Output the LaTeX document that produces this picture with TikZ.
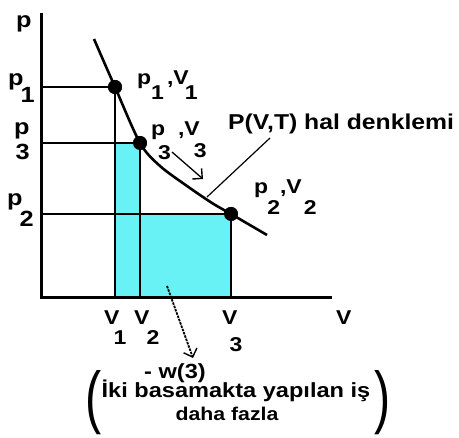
\documentclass[tikz,border=0pt]{standalone}
\usepackage{fontspec}
\usepackage{xcolor}
\usepackage{tikz}
\usetikzlibrary{arrows.meta,calc}
\newfontfamily\arialx[FakeStretch=1.15]{Liberation Sans}
\definecolor{workfill}{RGB}{104,242,246}
% subscript digit set low, same size as the letter
\newcommand{\lo}[3][0pt]{\kern#1\raisebox{-#2}{#3}}

\begin{document}
\begin{tikzpicture}[
  x=1pt,y=-1pt,
  every node/.style={font=\arialx\bfseries\fontsize{20}{22}\selectfont,inner sep=0pt},
  plbl/.style={font=\arialx\bfseries\fontsize{22}{24}\selectfont},
  axis/.style={line width=3pt},
  guide/.style={line width=1.4pt},
  curve/.style={line width=2.6pt},
  dot/.style={circle,fill=black,minimum size=14pt},
  lead/.style={line width=1.3pt,-{Straight Barb[angle=90:10pt,line width=1.4pt]}},
  txt/.style={font=\arialx\bfseries\fontsize{20.5}{22}\selectfont},
  paren/.style={font=\arialx\fontsize{60}{60}\selectfont}
]
  \useasboundingbox (0,0) rectangle (459,438);
  \coordinate (O) at (41,298);
  \coordinate (ptop) at (41,13);
  \coordinate (vend) at (332,298);

  % points on the curve
  \node[dot] (d1) at (115,87) {};
  \node[dot] (d3) at (140,143) {};
  \node[dot] (d2) at (231,214) {};

  % work areas
  \fill[workfill] (d1.center |- d3.center) rectangle (d3.center |- O);
  \fill[workfill] (d3.center |- d2.center) rectangle (d2.center |- O);

  % guide lines
  \draw[guide] (d1.center -| O) -- (d1.center) -- (d1.center |- O);
  \draw[guide] (d3.center -| O) -- (d3.center) -- (d3.center |- O);
  \draw[guide] (d2.center -| O) -- (d2.center) -- (d2.center |- O);

  % axes
  \draw[axis] (ptop) -- (O) -- (vend);

  % state curve
  \draw[curve] plot[smooth,tension=0.5] coordinates
    {(94,39) (104,62) (d1.center) (d3.center) (160,166) (187,186) (212,203) (d2.center) (267,235)};
  \node[dot] at (d1) {};
  \node[dot] at (d3) {};
  \node[dot] at (d2) {};

  % axis labels
  \node[plbl,anchor=base west] (lp) at (16,28) {p};
  \node[plbl,anchor=base west] (lp1) at (8,86) {p\lo[-3pt]{17pt}{1}};
  \node[plbl,anchor=base west] (lp3) at (14,135) {p\lo[-14pt]{25pt}{3}};
  \node[plbl,anchor=base west] (lp2) at (7,206) {p\lo[-3pt]{21pt}{2}};
  \node[anchor=base west] (lv1) at (104,325) {V\lo[-6pt]{20pt}{1}};
  \node[anchor=base west] (lv2) at (134,325) {V\lo[-3pt]{20pt}{2}};
  \node[anchor=base west] (lv3) at (222,325) {V\lo[-8pt]{27pt}{3}};
  \node[anchor=base west] (lv) at (336,325) {V};

  % point labels
  \node[anchor=base west] (s1) at (137,85) {p\lo{15pt}{1}\kern3pt,V\lo[-4pt]{15pt}{1}};
  \node[anchor=base west] (s3) at (151,136) {p\lo[-7pt]{24pt}{3}\kern7pt,V\lo[-6pt]{22pt}{3}};
  \node[anchor=base west] (s2) at (254,194) {p\lo[-1pt]{21pt}{2},V\lo[2pt]{21pt}{2}};

  % equation of state
  \node[font=\arialx\bfseries\fontsize{21.5}{23}\selectfont,anchor=base west] (eq) at (228,130) {P(V,T) hal denklemi};
  \coordinate (eqfoot) at (270,138);
  \coordinate (oncurve) at (207,197);
  \draw[guide,line width=1.2pt] (eqfoot) -- (oncurve);

  % arrow along the path
  \coordinate (a3s) at (172,152);
  \coordinate (a3e) at (203,179);
  \draw[lead] (a3s) -- (a3e);

  % work note
  \coordinate (ws) at (167,286);
  \coordinate (we) at (193,358);
  \draw[lead,line width=1.8pt,dash pattern=on 2.5pt off 1pt] (ws) -- (we);
  \node[txt,anchor=base] (w3) at (175,379) {- w(3)};
  \node[txt,anchor=base] (note1) at (236,398) {İki basamakta yapılan iş};
  \node[txt,anchor=base,font=\arialx\bfseries\fontsize{18.5}{20}\selectfont] (note2) at (227,421) {daha fazla};
  \node[paren] (lpar) at (94,403) {\scalebox{0.7}[1.15]{(}};
  \node[paren] (rpar) at (383,403) {\scalebox{0.7}[1.15]{)}};
\end{tikzpicture}
\end{document}
